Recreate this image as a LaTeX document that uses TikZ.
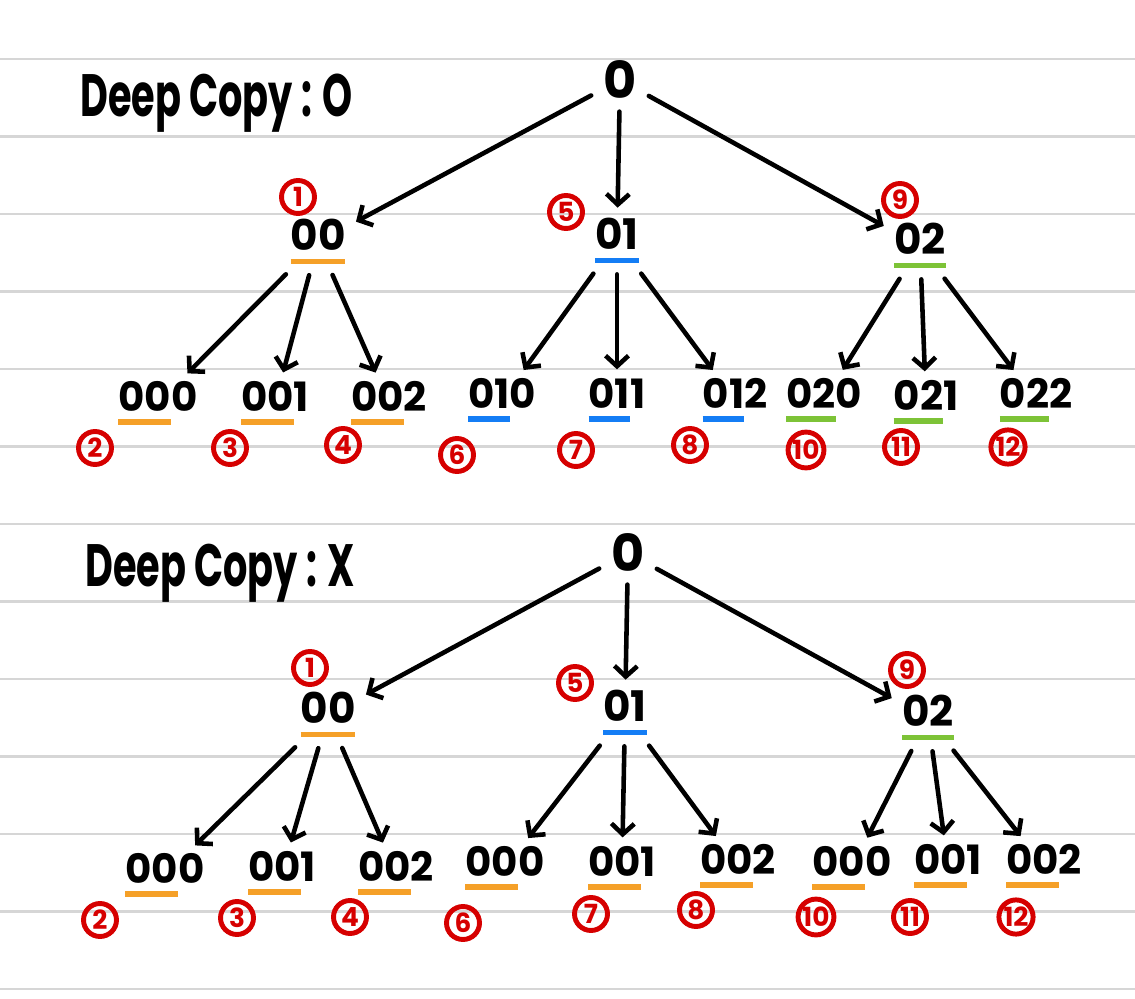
\documentclass[tikz,border=0pt]{standalone}
\usepackage{fontspec}
\setmainfont{Poppins}
\usepackage{tikz}
\usetikzlibrary{positioning,arrows.meta}
\definecolor{markred}{RGB}{214,0,0}
\definecolor{ulorange}{RGB}{245,160,40}
\definecolor{ulblue}{RGB}{20,125,245}
\definecolor{ulgreen}{RGB}{125,195,55}
\definecolor{ruleline}{RGB}{214,214,214}
\newsavebox\pfxbox
\newcommand\pfx[2]{\sbox\pfxbox{#2}\rlap{\color{#1}\rule[-0.32em]{\wd\pfxbox}{0.14em}}\usebox\pfxbox}

\begin{document}
\begin{tikzpicture}[
  x=0.02cm, y=-0.02cm,
  root/.style={font=\fontsize{29}{31}\selectfont\bfseries, inner sep=5pt},
  lvone/.style={font=\fontsize{24}{26}\selectfont\bfseries, inner sep=4pt},
  lvtwo/.style={font=\fontsize{23}{25}\selectfont\bfseries, inner sep=3pt},
  order/.style={circle, draw=markred, line width=2.8pt, text=markred, font=\fontsize{15}{16}\selectfont\bfseries, inner sep=0.5pt, minimum size=0.66cm},
  title/.style={font=\fontsize{34}{36}\selectfont\bfseries, anchor=west, inner sep=0pt},
  link/.style={-{Straight Barb[length=6pt,width=13pt]}, line width=2.6pt, line cap=round, shorten <=2pt, shorten >=2pt}
]
\fill[white] (0,0) rectangle (1135,999);
\useasboundingbox (0,0) rectangle (1135,999);
% notebook ruling, one line every 77.5px
\foreach \k in {0,...,12}
  \draw[ruleline, line width=1.4pt] (0,59+77.5*\k) -- (1135,59+77.5*\k);

% Upper tree: deep copy, every child keeps its own prefix colour
\node[title] (ttl1) at (80,103) {\scalebox{0.64}[1]{Deep Copy : O}};
\node[root] (top) at (620,80) {0};
\node[lvone] (t0) at (318,242) {\pfx{ulorange}{00}};
\node[lvone] (t1) at (617,241) {\pfx{ulblue}{01}};
\node[lvone] (t2) at (920,246) {\pfx{ulgreen}{02}};
\node[lvtwo] (t00) at (158,403) {\pfx{ulorange}{00}0};
\node[lvtwo] (t01) at (275,403) {\pfx{ulorange}{00}1};
\node[lvtwo] (t02) at (389,403) {\pfx{ulorange}{00}2};
\node[lvtwo] (t10) at (502,400) {\pfx{ulblue}{01}0};
\node[lvtwo] (t11) at (617,400) {\pfx{ulblue}{01}1};
\node[lvtwo] (t12) at (735,400) {\pfx{ulblue}{01}2};
\node[lvtwo] (t20) at (824,400) {\pfx{ulgreen}{02}0};
\node[lvtwo] (t21) at (926,402) {\pfx{ulgreen}{02}1};
\node[lvtwo] (t22) at (1036,400) {\pfx{ulgreen}{02}2};

\draw[link] (top) -- (t0);
\draw[link] (top) -- (t1);
\draw[link] (top) -- (t2);
\draw[link] (t0) -- (t00);
\draw[link] (t0) -- (t01);
\draw[link] (t0) -- (t02);
\draw[link] (t1) -- (t10);
\draw[link] (t1) -- (t11);
\draw[link] (t1) -- (t12);
\draw[link] (t2) -- (t20);
\draw[link] (t2) -- (t21);
\draw[link] (t2) -- (t22);

\node[order] (to1) at (298,197) {1};
\node[order] (to5) at (566,212) {5};
\node[order] (to9) at (900,200) {9};
\node[order] (to2) at (95,448) {2};
\node[order] (to3) at (230,448) {3};
\node[order] (to4) at (343,445) {4};
\node[order] (to6) at (457,455) {6};
\node[order] (to7) at (576,450) {7};
\node[order] (to8) at (690,445) {8};
\node[order] (to10) at (806,450) {10};
\node[order] (to11) at (901,447) {11};
\node[order] (to12) at (1008,447) {12};

% Lower tree: no deep copy, the grandchildren all show the 00 prefix
\node[title] (ttl2) at (85,573) {\scalebox{0.64}[1]{Deep Copy : X}};
\node[root] (bot) at (628,553) {0};
\node[lvone] (b0) at (328,715) {\pfx{ulorange}{00}};
\node[lvone] (b1) at (625,713) {\pfx{ulblue}{01}};
\node[lvone] (b2) at (928,718) {\pfx{ulgreen}{02}};
\node[lvtwo] (b00) at (165,875) {\pfx{ulorange}{00}0};
\node[lvtwo] (b01) at (282,873) {\pfx{ulorange}{00}1};
\node[lvtwo] (b02) at (396,873) {\pfx{ulorange}{00}2};
\node[lvtwo] (b10) at (505,868) {\pfx{ulorange}{00}0};
\node[lvtwo] (b11) at (622,868) {\pfx{ulorange}{00}1};
\node[lvtwo] (b12) at (738,866) {\pfx{ulorange}{00}2};
\node[lvtwo] (b20) at (852,868) {\pfx{ulorange}{00}0};
\node[lvtwo] (b21) at (948,866) {\pfx{ulorange}{00}1};
\node[lvtwo] (b22) at (1044,866) {\pfx{ulorange}{00}2};

\draw[link] (bot) -- (b0);
\draw[link] (bot) -- (b1);
\draw[link] (bot) -- (b2);
\draw[link] (b0) -- (b00);
\draw[link] (b0) -- (b01);
\draw[link] (b0) -- (b02);
\draw[link] (b1) -- (b10);
\draw[link] (b1) -- (b11);
\draw[link] (b1) -- (b12);
\draw[link] (b2) -- (b20);
\draw[link] (b2) -- (b21);
\draw[link] (b2) -- (b22);

\node[order] (bo1) at (310,668) {1};
\node[order] (bo5) at (575,683) {5};
\node[order] (bo9) at (907,670) {9};
\node[order] (bo2) at (100,920) {2};
\node[order] (bo3) at (237,918) {3};
\node[order] (bo4) at (350,917) {4};
\node[order] (bo6) at (463,923) {6};
\node[order] (bo7) at (591,914) {7};
\node[order] (bo8) at (696,910) {8};
\node[order] (bo10) at (816,917) {10};
\node[order] (bo11) at (910,917) {11};
\node[order] (bo12) at (1016,917) {12};
\end{tikzpicture}
\end{document}
